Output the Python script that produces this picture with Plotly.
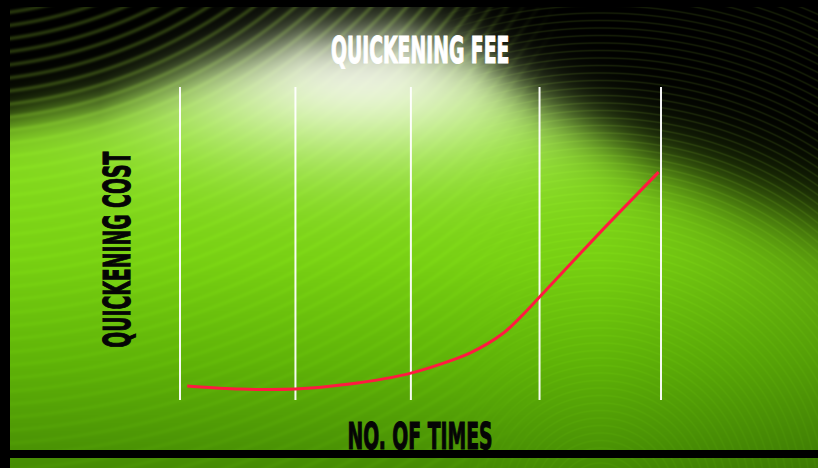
import base64
import struct
import zlib

import numpy as np
import plotly.graph_objects as go

W, H = 818, 468

# ---------------- data ----------------
grid_times = [0, 0.96, 1.92, 2.99, 4.0]
curve_times = [0.06, 0.5, 0.96, 1.41, 1.92, 2.41, 2.69, 2.85, 2.99, 3.49, 3.98]
curve_cost = [4.5, 3.5, 3.5, 5.1, 8.6, 15.0, 21.4, 27.2, 32.9, 53.4, 72.8]
cost_range = [0, 100]
time_range = [-0.1, 4.1]

title_text = "QUICKENING FEE"
x_title = "NO. OF TIMES"
y_title = "QUICKENING COST"


# ---------------- decorative background (image) ----------------
def png_data_uri(rgb):
    h, w, _ = rgb.shape
    raw = b"".join(b"\x00" + rgb[i].tobytes() for i in range(h))

    def chunk(t, d):
        c = struct.pack(">I", len(d)) + t + d
        return c + struct.pack(">I", zlib.crc32(t + d) & 0xFFFFFFFF)

    png = (b"\x89PNG\r\n\x1a\n"
           + chunk(b"IHDR", struct.pack(">IIBBBBB", w, h, 8, 2, 0, 0, 0))
           + chunk(b"IDAT", zlib.compress(raw, 9))
           + chunk(b"IEND", b""))
    return "data:image/png;base64," + base64.b64encode(png).decode()


yy, xx = np.mgrid[0:H, 0:W].astype(float)

# green base, vertical gradient
gy = [60, 160, 260, 360, 468]
gr = [150, 132, 120, 96, 70]
gg = [228, 218, 208, 180, 140]
gb = [50, 28, 18, 8, 4]
base = np.stack([np.interp(yy, gy, gr), np.interp(yy, gy, gg), np.interp(yy, gy, gb)], -1)
shade = 1 - 0.12 * np.clip((xx - 600) / 218, 0, 1)
base *= shade[..., None]

# white glow near top centre
w = 0.97 * np.exp(-(((xx - 360) / 205) ** 2 + ((yy - 68) / 90) ** 2))
white = np.array([246, 250, 236], float)
col = base * (1 - w[..., None]) + white * w[..., None]

# dark dome at top
bx = np.interp(xx, [0, 100, 200, 300, 400, 470, 540, 600, 660, 750, 818],
               [120, 102, 66, 35, 30, 50, 100, 132, 162, 198, 222])
soft = np.interp(xx, [0, 300, 500, 818], [11, 15, 16, 24])
dark = 1 / (1 + np.exp((yy - bx) / soft))

# wavy line texture
r1 = np.hypot(xx + 50, yy + 400)
L1 = (0.5 + 0.5 * np.cos(2 * np.pi * r1 / 13)) ** 3
r2 = np.hypot(xx - 600, yy - 500)
L2 = (0.5 + 0.5 * np.cos(2 * np.pi * r2 / 7.5)) ** 6
wl = np.clip((560 - xx) / 120, 0, 1)
L = wl * L1 + (1 - wl) * L2

col = col * (1 - dark[..., None])
tex = np.array([36, 50, 12], float) * (0.55 + 0.45 * wl)[..., None]
col += (dark * L)[..., None] * tex
col += ((1 - dark) * (1 - w) * L)[..., None] * np.array([4, 6, 1], float)
img = np.clip(col, 0, 255).astype(np.uint8)

# ---------------- figure ----------------
fig = go.Figure()

gx, gyl = [], []
for t in grid_times:
    gx += [t, t, None]
    gyl += [cost_range[0], cost_range[1], None]
fig.add_trace(go.Scatter(x=gx, y=gyl, mode="lines",
                         line=dict(color="rgba(255,255,255,0.95)", width=2),
                         hoverinfo="skip", showlegend=False, cliponaxis=False))

fig.add_trace(go.Scatter(x=curve_times, y=curve_cost, mode="lines",
                         line=dict(color="#ff1a40", width=3, shape="spline", smoothing=0.8),
                         showlegend=False, cliponaxis=False))

x0 = (180 - 0.1 * 120.25) / W
x1 = (180 + 4.1 * 120.25) / W
fig.update_xaxes(range=time_range, domain=[x0, x1], visible=False, showgrid=False, zeroline=False)
fig.update_yaxes(range=cost_range, domain=[(H - 400) / H, (H - 87) / H], visible=False,
                 showgrid=False, zeroline=False)

font_fam = "Liberation Sans Narrow, DejaVu Sans Condensed, Arial Narrow, sans-serif"
fig.update_layout(
    width=W, height=H,
    margin=dict(l=0, r=0, t=0, b=0),
    paper_bgcolor="#000000", plot_bgcolor="rgba(0,0,0,0)",
    images=[dict(source=png_data_uri(img), xref="paper", yref="paper", x=0, y=1,
                 sizex=1, sizey=1, sizing="stretch", xanchor="left", yanchor="top",
                 layer="below")],
    shapes=[
        dict(type="rect", xref="paper", yref="paper", x0=0, x1=10 / W, y0=0, y1=1,
             fillcolor="#000", line_width=0, layer="below"),
        dict(type="rect", xref="paper", yref="paper", x0=0, x1=1, y0=1 - 7 / H, y1=1,
             fillcolor="#000", line_width=0, layer="below"),
        dict(type="rect", xref="paper", yref="paper", x0=0, x1=1, y0=1 - 458 / H, y1=1 - 450 / H,
             fillcolor="#000", line_width=0, layer="below"),
    ],
    annotations=[
        dict(text=f"<b>{title_text}</b>", xref="paper", yref="paper", x=420 / W, y=1 - 50 / H,
             showarrow=False, font=dict(family=font_fam, size=38, color="#ffffff"),
             xanchor="center", yanchor="middle"),
        dict(text=f"<b>{x_title}</b>", xref="paper", yref="paper", x=420 / W, y=1 - 436 / H,
             showarrow=False, font=dict(family=font_fam, size=38, color="#050505"),
             xanchor="center", yanchor="middle"),
        dict(text=f"<b>{y_title}</b>", xref="paper", yref="paper", x=117 / W, y=1 - 250 / H,
             showarrow=False, textangle=-90, font=dict(family=font_fam, size=38, color="#050505"),
             xanchor="center", yanchor="middle"),
    ],
)

post = """
var s=document.createElement('style');
s.textContent='body{margin:0;} .annotation-text{transform-box:fill-box;transform-origin:center;transform:scaleX(0.55);stroke-width:1.1px;} .annotation[data-index="0"] .annotation-text{stroke:#ffffff;} .annotation[data-index="1"] .annotation-text, .annotation[data-index="2"] .annotation-text{stroke:#050505;}';
document.head.appendChild(s);
"""
fig.write_html("out.html", post_script=post, config={"displayModeBar": False})
